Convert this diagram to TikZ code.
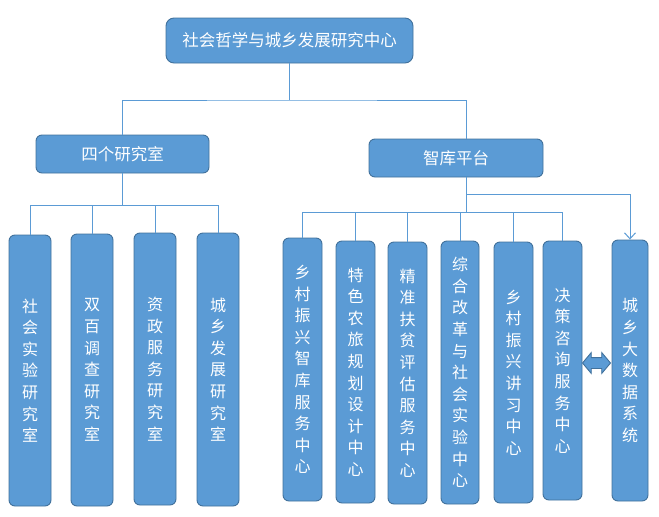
\documentclass[tikz,border=0pt]{standalone}
\usepackage{fontspec}
\newfontfamily\cjk{Noto Sans CJK SC}
\usepackage{xcolor}
\definecolor{cFill}{HTML}{5B9BD5}
\definecolor{cEdge}{HTML}{41719C}
\definecolor{cLine}{HTML}{5B9BD5}
\usepackage{tikz}
\usetikzlibrary{positioning,arrows.meta,shapes.arrows}
\tikzset{
  node-box/.style={draw=cEdge,fill=cFill,line width=0.9pt,rounded corners=6pt,
    text=white,align=center,inner sep=0pt,font=\cjk\fontsize{16.5}{20}\selectfont},
  node-col/.style={node-box,font=\cjk\fontsize{16}{21.6}\selectfont},
  node-biarrow/.style={double arrow,draw=cEdge,fill=cFill,line width=0.9pt,
    inner xsep=0pt,inner ysep=5pt,minimum height=28pt,
    double arrow head extend=5pt,double arrow tip angle=100},
  link/.style={draw=cLine,line width=1pt},
  link-arrow/.style={link,-{Straight Barb[length=6pt,width=11pt]}},
}

\begin{document}
\begin{tikzpicture}[x=1pt,y=-1pt]
  \useasboundingbox (0,0) rectangle (659,517);
  % top level
  \node[node-box,rounded corners=8pt,minimum width=247pt,minimum height=45pt] (root) at (289.5,40.5) {社会哲学与城乡发展研究中心};
  \node[node-box,minimum width=173pt,minimum height=38pt] (lab)  at (122.5,154) {四个研究室};
  \node[node-box,minimum width=174pt,minimum height=38pt] (plat) at (456,158) {智库平台};
  % research rooms
  \node[node-col,minimum width=42pt,minimum height=271pt] (l1) at (30,370.5) {社\\会\\实\\验\\研\\究\\室};
  \node[node-col,minimum width=42pt,minimum height=272pt] (l2) at (92,370) {双\\百\\调\\查\\研\\究\\室};
  \node[node-col,minimum width=42pt,minimum height=272pt] (l3) at (155,369) {资\\政\\服\\务\\研\\究\\室};
  \node[node-col,minimum width=42pt,minimum height=273pt] (l4) at (218,369.5) {城\\乡\\发\\展\\研\\究\\室};
  % platform centres
  \node[node-col,minimum width=39pt,minimum height=263pt] (r1) at (302.5,369.5) {乡\\村\\振\\兴\\智\\库\\服\\务\\中\\心};
  \node[node-col,minimum width=39pt,minimum height=262pt] (r2) at (355.5,372) {特\\色\\农\\旅\\规\\划\\设\\计\\中\\心};
  \node[node-col,minimum width=39pt,minimum height=262pt] (r3) at (407.5,373) {精\\准\\扶\\贫\\评\\估\\服\\务\\中\\心};
  \node[node-col,minimum width=38pt,minimum height=263pt] (r4) at (460,372.5) {综\\合\\改\\革\\与\\社\\会\\实\\验\\中\\心};
  \node[node-col,minimum width=39pt,minimum height=261pt] (r5) at (513.5,372.5) {乡\\村\\振\\兴\\讲\\习\\中\\心};
  \node[node-col,minimum width=39pt,minimum height=259pt] (r6) at (562.5,370.5) {决\\策\\咨\\询\\服\\务\\中\\心};
  \node[node-col,minimum width=36pt,minimum height=261pt] (r7) at (630,370.5) {城\\乡\\大\\数\\据\\系\\统};
  \node[node-biarrow] (bi) at (596.5,363) {};
  % junctions
  \coordinate (jTop) at (289.5,100);
  \coordinate (platIn) at (466,139);
  \coordinate (platOut) at (466,177);
  \coordinate (jL) at (122.5,205);
  \coordinate (jB) at (466,194);
  \coordinate (jR) at (466,212);
  % connectors
  \draw[link] (root.south) -- (jTop);
  \draw[link] (lab.north) |- (jTop) -| (platIn);
  \draw[link] (lab.south) -- (jL);
  \draw[link] (l1.north) |- (l4.north |- jL) -- (l4.north);
  \draw[link] (l2.north) -- (l2.north |- jL);
  \draw[link] (l3.north) -- (l3.north |- jL);
  \draw[link] (platOut) -- (jR);
  \draw[link] (r1.north) |- (r6.north |- jR) -- (r6.north);
  \draw[link] (r2.north) -- (r2.north |- jR);
  \draw[link] (r3.north) -- (r3.north |- jR);
  \draw[link] (r4.north) -- (r4.north |- jR);
  \draw[link] (r5.north) -- (r5.north |- jR);
  \draw[link-arrow] (jB) -| (r7.north);
\end{tikzpicture}
\end{document}
